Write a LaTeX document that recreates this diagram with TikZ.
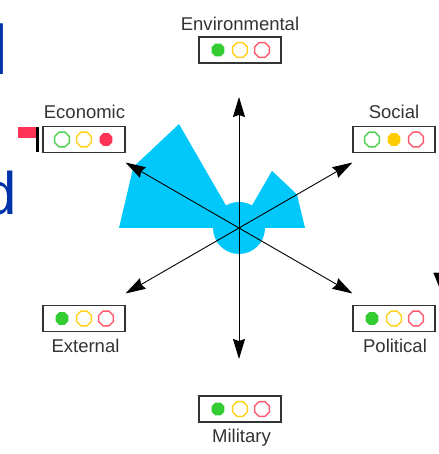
\documentclass[tikz,border=0pt]{standalone}
\usepackage{fontspec}
\setmainfont{Liberation Sans}
\usetikzlibrary{arrows.meta,shapes.geometric}

\definecolor{fan}{RGB}{0,200,250}
\definecolor{ink}{RGB}{51,51,51}
\definecolor{litgreen}{RGB}{51,204,51}
\definecolor{rimgreen}{RGB}{80,210,80}
\definecolor{litamber}{RGB}{255,204,0}
\definecolor{rimamber}{RGB}{255,210,30}
\definecolor{litred}{RGB}{255,51,85}
\definecolor{rimred}{RGB}{255,90,110}
\definecolor{slideblue}{RGB}{0,51,170}

% one indicator panel: name, centre, lit lamp (1 green, 2 amber, 3 red)
\newcommand{\trafficpanel}[3]{%
  \node[panel] (#1) at (#2) {};
  \ifnum#3=1 \node[lampon=litgreen] (#1-g) at ([xshift=-22pt]#1.center) {};
  \else \node[lampoff=rimgreen] (#1-g) at ([xshift=-22pt]#1.center) {};\fi
  \ifnum#3=2 \node[lampon=litamber] (#1-a) at (#1.center) {};
  \else \node[lampoff=rimamber] (#1-a) at (#1.center) {};\fi
  \ifnum#3=3 \node[lampon=litred] (#1-r) at ([xshift=22pt]#1.center) {};
  \else \node[lampoff=rimred] (#1-r) at ([xshift=22pt]#1.center) {};\fi
}

\begin{document}
\begin{tikzpicture}[x=1pt,y=1pt,
  axis/.style={line width=0.9pt, -{Stealth[length=20pt,width=12pt,inset=2pt]}},
  panel/.style={draw=ink, line width=1.1pt, minimum width=82pt, minimum height=26pt, inner sep=0pt},
  tag/.style={text=ink, font=\fontsize{18.5}{20}\selectfont, anchor=base, inner sep=0pt},
  lampoff/.style={regular polygon, regular polygon sides=8, minimum size=16pt,
    inner sep=0pt, line width=1.4pt, draw=#1},
  lampon/.style={regular polygon, regular polygon sides=8, minimum size=14pt,
    inner sep=0pt, fill=#1},
  bigletter/.style={inner sep=0pt, font=\fontsize{#1}{#1}\selectfont},
]
\useasboundingbox (-239,-226) rectangle (199,228);

% cut-off slide lettering at the edges
\node[bigletter=70, text=slideblue, anchor=base east] (edgeL) at (-231,153) {l};
\node[bigletter=60, text=slideblue, anchor=base east] (edgeD) at (-221.5,13) {d};
\node[bigletter=60, text=black, anchor=base west] (edgeV) at (194,-87) {V};

% polar area shape
\fill[fan] (180:120) -- (150:122) -- (120:120) -- (120:26)
  arc[start angle=120, end angle=60, radius=26]
  -- (60:66) -- (30:67) -- (0:66) -- (0:26)
  arc[start angle=0, end angle=-180, radius=26] -- cycle;

% axes
\coordinate (o) at (0,0);
\coordinate (tipEnv) at (90:131);
\coordinate (tipEco) at (150:131);
\coordinate (tipSoc) at (30:131);
\coordinate (tipExt) at (210:131);
\coordinate (tipPol) at (330:131);
\coordinate (tipMil) at (270:131);
\foreach \t in {Env,Eco,Soc,Ext,Pol,Mil}
  \draw[axis] (o) -- (tip\t);

% indicator panels
\trafficpanel{env}{1,178}{1}
\trafficpanel{eco}{-155,88.5}{3}
\trafficpanel{soc}{155,88.5}{2}
\trafficpanel{ext}{-155,-90.5}{1}
\trafficpanel{pol}{155,-90.5}{1}
\trafficpanel{mil}{1,-181}{1}

% labels
\node[tag] (envT) at (1,197) {Environmental};
\node[tag] (ecoT) at (-154.5,109) {Economic};
\node[tag] (socT) at (155,109) {Social};
\node[tag] (extT) at (-153.5,-124) {External};
\node[tag] (polT) at (156,-124) {Political};
\node[tag] (milT) at (2.5,-214) {Military};

% flag beside the economic panel
\fill[litred] (-221,90) rectangle (-203,101);
\draw[line width=2.6pt, black] (-201.7,76) -- (-201.7,101);
\end{tikzpicture}
\end{document}
